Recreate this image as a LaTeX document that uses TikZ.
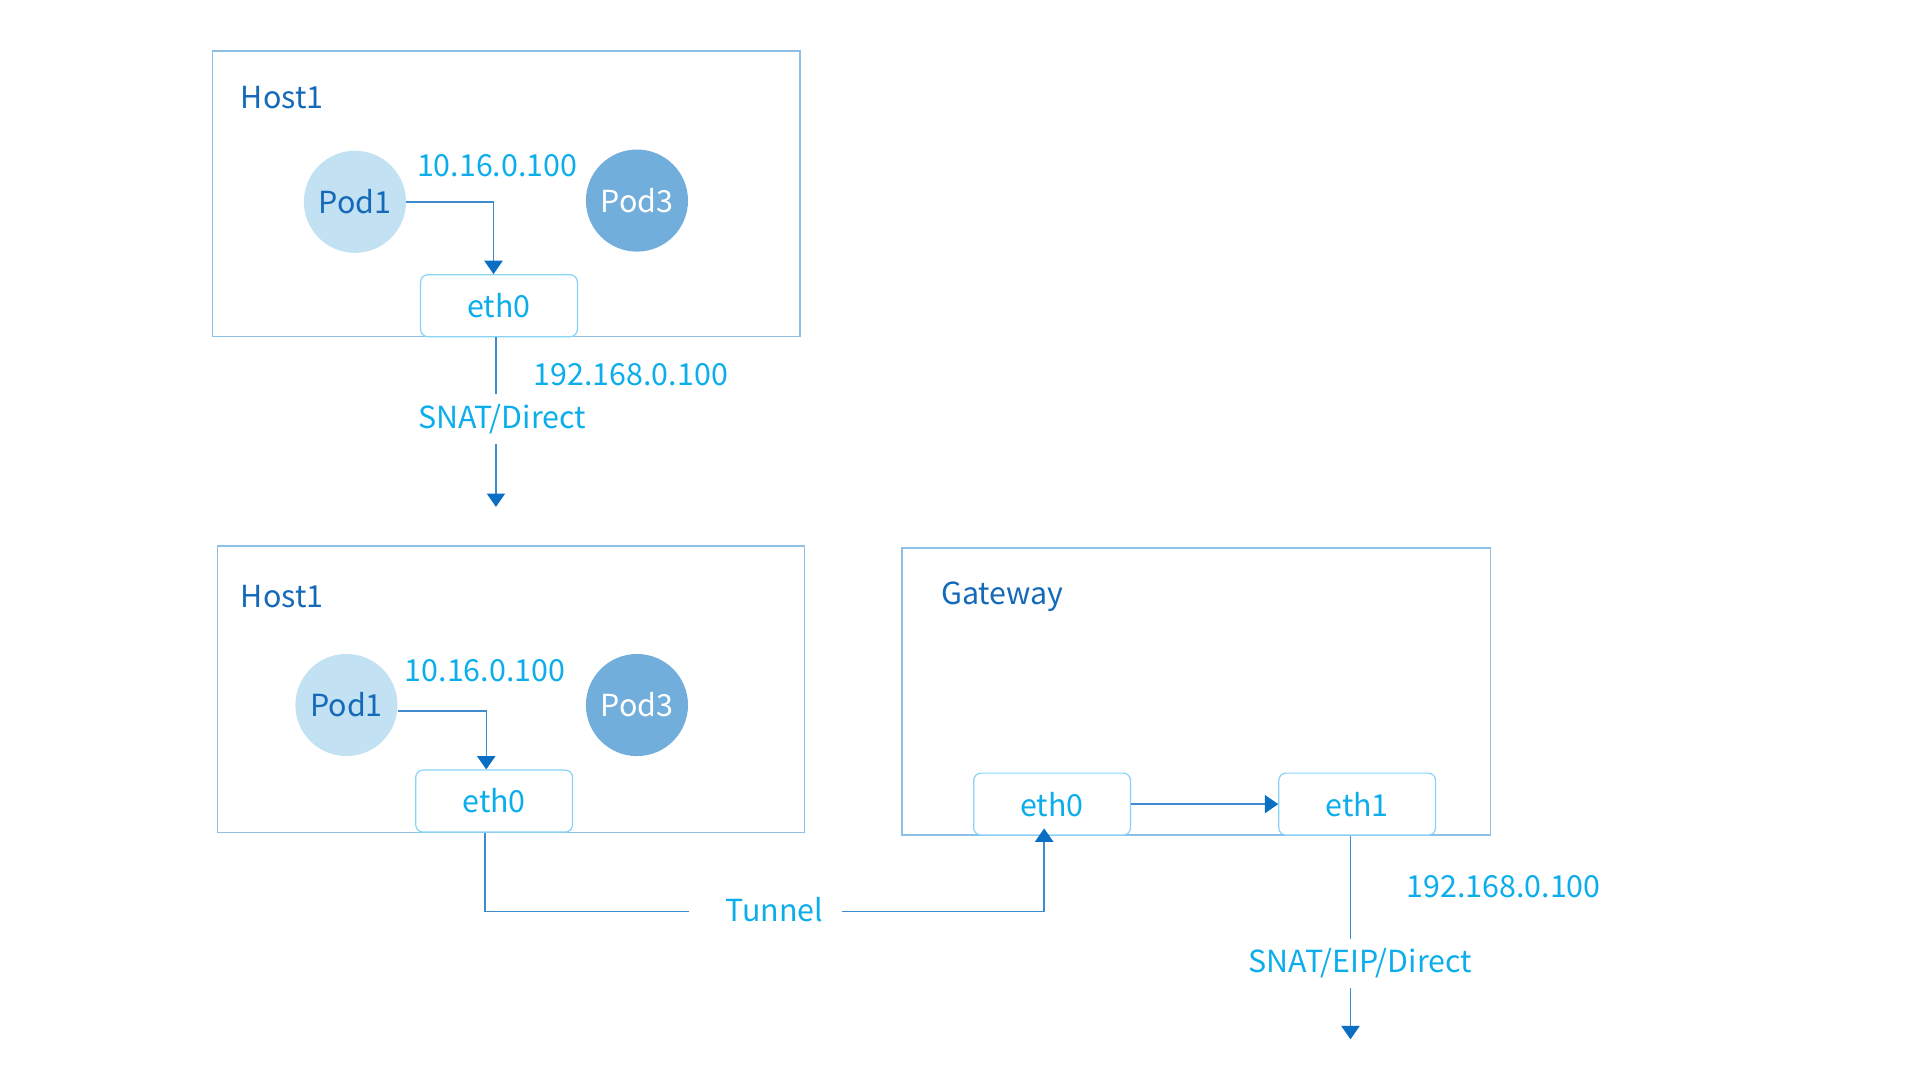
\documentclass[tikz,border=0pt]{standalone}
\usepackage{fontspec}
\setmainfont{Noto Sans CJK SC}
\usetikzlibrary{arrows.meta}

\definecolor{hostline}{HTML}{8DC0E7}
\definecolor{ethline}{HTML}{86D4F6}
\definecolor{linkblue}{HTML}{3E8BD0}
\definecolor{tipblue}{HTML}{0A6FC2}
\definecolor{labcyan}{HTML}{0BAEEB}
\definecolor{hostblue}{HTML}{1469B8}
\definecolor{podlight}{HTML}{C2E1F2}
\definecolor{poddark}{HTML}{72AEDB}

\begin{document}
\begin{tikzpicture}[x=1pt,y=1pt,yscale=-1,
  every node/.style={font=\fontsize{25}{30}\selectfont},
  host/.style={draw=hostline, line width=1.2, minimum width=483, minimum height=235, inner sep=0},
  eth/.style={draw=ethline, line width=1, rounded corners=6, minimum width=129, minimum height=51, text=labcyan},
  podA/.style={circle, fill=podlight, minimum size=84, inner sep=0, text=hostblue},
  podB/.style={circle, fill=poddark, minimum size=84, inner sep=0, text=white},
  hostlab/.style={anchor=west, text=hostblue, inner sep=0, yshift=-1.5},
  iplab/.style={text=labcyan, inner sep=0, yshift=-1.5},
  cutlab/.style={text=labcyan, inner xsep=22, inner ysep=8, yshift=-1.5},
  link/.style={draw=linkblue, line width=1.2},
  arr/.style={link, -{Triangle[length=11,width=15,color=tipblue]}}]
\useasboundingbox (0,0) rectangle (1568,886);

% upper host
\node[host] (hostA) at (416.5,159.5) {};
\node[hostlab] (hostAlab) at (198,79) {Host1};
\node[podA] (pod1a) at (292,166) {Pod1};
\node[podB] (pod3a) at (524,165) {Pod3};
\node[iplab] (ipa) at (409,135) {10.16.0.100};
\node[eth, fill=white] (eth0a) at (410.5,251.5) {eth0};
\draw[arr] (pod1a.east) -| ([xshift=-4.5]eth0a.north);

% way out of the upper host
\node[iplab] (extipa) at (519,307) {192.168.0.100};
\node[cutlab] (snat1) at (413,343) {SNAT/Direct};
\coordinate (out1) at (408,417);
\draw[link] (eth0a.south -| out1) -- (snat1.north -| out1);
\draw[arr] (snat1.south -| out1) -- (out1);

% lower host
\node[host, minimum height=236] (hostB) at (420.5,567) {};
\node[hostlab] (hostBlab) at (198,489) {Host1};
\node[podA] (pod1b) at (285,580) {Pod1};
\node[podB] (pod3b) at (524,580) {Pod3};
\node[iplab] (ipb) at (399,550) {10.16.0.100};
\node[eth, fill=white] (eth0b) at (406.5,659) {eth0};
\draw[arr] ([yshift=5]pod1b.east) -| ([xshift=-6.5]eth0b.north);

% gateway
\node[host, minimum width=484, minimum height=236] (gw) at (984,569) {};
\node[hostlab] (gwlab) at (774,489) {Gateway};
\node[eth, fill=white] (eth0g) at (865.5,661.5) {eth0};
\node[eth, fill=white] (eth1g) at (1116.5,661.5) {eth1};
\draw[arr] (eth0g.east) -- (eth1g.west);

% tunnel between host and gateway
\node[cutlab] (tunnel) at (637,747) {Tunnel};
\draw[link] ([xshift=-7.5]eth0b.south) |- ([xshift=-8,yshift=1.5]tunnel.west);
\draw[arr] ([xshift=-7,yshift=1.5]tunnel.east) -| ([xshift=-6.5,yshift=-6]eth0g.south);

% way out of the gateway
\node[iplab] (extipg) at (1237,728) {192.168.0.100};
\node[cutlab] (snat2) at (1119,791) {SNAT/EIP/Direct};
\coordinate (out2) at (1111,855);
\draw[link] (eth1g.south -| out2) -- (snat2.north -| out2);
\draw[arr] (snat2.south -| out2) -- (out2);

\end{tikzpicture}
\end{document}
